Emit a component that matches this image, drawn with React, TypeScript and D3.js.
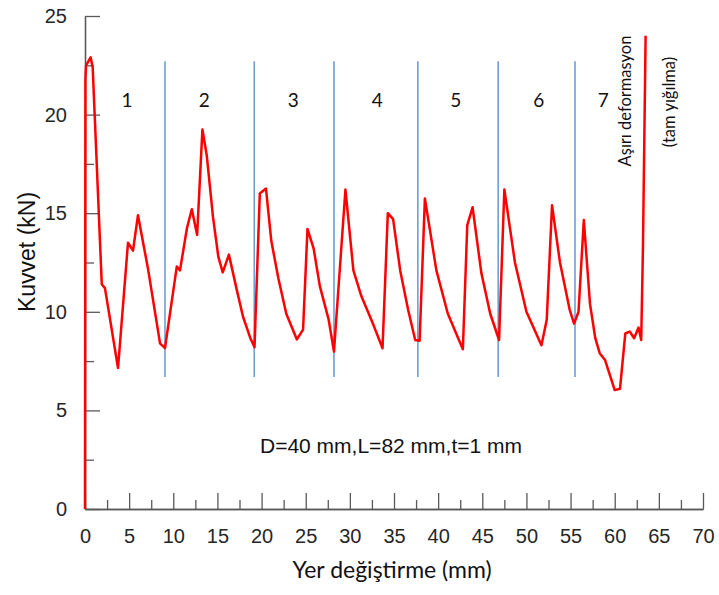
import React, { useRef, useEffect } from "react";
import * as d3 from "d3";

// crushing test: displacement (mm) vs force (kN)
const dispMm = [
  0, 0.05, 0.12, 0.64, 0.87, 1.9, 2.26, 3.74, 4.87, 5.44, 6.0, 7.13, 8.5, 9.06,
  10.4, 10.76, 11.55, 12.1, 12.7, 13.3, 13.8, 14.5, 15.1, 15.6, 16.3, 17.2, 17.9,
  18.7, 19.2, 19.8, 20.5, 21.1, 21.9, 22.8, 24.0, 24.7, 25.2, 25.9, 26.6, 27.6,
  28.2, 29.5, 30.4, 31.3, 32.7, 33.7, 34.3, 34.9, 35.7, 36.6, 37.4, 37.9, 38.5,
  39.8, 41.1, 42.8, 43.3, 43.9, 44.9, 45.9, 46.9, 47.5, 48.7, 50.0, 51.7, 52.3,
  52.9, 53.8, 54.9, 55.4, 55.9, 56.5, 57.2, 57.8, 58.3, 58.9, 60.0, 60.6, 61.2,
  61.7, 62.2, 62.7, 63.0, 63.2, 63.5,
];
const forceKn = [
  0, 21.8, 22.5, 22.9, 22.4, 11.4, 11.2, 7.15, 13.5, 13.1, 14.9, 12.2, 8.4, 8.16,
  12.3, 12.1, 14.25, 15.2, 13.9, 19.25, 17.9, 14.8, 12.8, 12.0, 12.9, 11.1, 9.75,
  8.7, 8.2, 16.0, 16.25, 13.6, 11.7, 9.9, 8.6, 9.1, 14.2, 13.2, 11.3, 9.6,
  7.98, 16.2, 12.1, 10.8, 9.3, 8.15, 15.0, 14.7, 12.1, 10.1, 8.57, 8.53, 15.75,
  12.1, 9.9, 8.1, 14.4, 15.3, 11.95, 9.9, 8.57, 16.2, 12.5, 10.0, 8.3, 9.6,
  15.4, 12.5, 10.1, 9.4, 10.0, 14.65, 10.4, 8.66, 7.9, 7.56, 6.03, 6.1, 8.9,
  9.0, 8.66, 9.2, 8.57, 13.3, 24.0,
];

// fold boundaries (blue lines) and fold numbers
const foldLines = [9.06, 19.17, 28.2, 37.7, 46.8, 55.5];
const foldLineTop = 22.7;
const foldLineBottom = 6.7;
const foldNames = ["1", "2", "3", "4", "5", "6", "7"];
const foldNameX = [4.76, 13.5, 23.6, 33.1, 42.0, 51.4, 58.7];
const foldNameY = 20.7;

const xMajor = [0, 5, 10, 15, 20, 25, 30, 35, 40, 45, 50, 55, 60, 65, 70];
const xMinor = [2.5, 7.5, 12.5, 17.5, 22.5, 27.5, 32.5, 37.5, 42.5, 47.5, 52.5, 57.5, 62.5, 67.5];
const yMajor = [0, 5, 10, 15, 20, 25];
const yMinor = [2.5, 7.5, 12.5, 17.5, 22.5];

const W = 719;
const H = 595;
const margin = { top: 16, right: 16, bottom: 86, left: 85 };
const axisColor = "#595959";
const arial = "'Liberation Sans', Arial, sans-serif";
const calibri = "Lato, 'Open Sans', sans-serif";

export default function App() {
  const svgRef = useRef<SVGSVGElement>(null);

  useEffect(() => {
    const svg = d3.select(svgRef.current);
    svg.selectAll("*").remove();

    const x = d3.scaleLinear().domain([0, 70]).range([margin.left, W - margin.right]);
    const y = d3.scaleLinear().domain([0, 25]).range([H - margin.bottom, margin.top]);

    const styleAxis = (g: any) => {
      g.select(".domain").attr("stroke", axisColor).attr("stroke-width", 1.3);
      g.selectAll(".tick line").attr("stroke", axisColor).attr("stroke-width", 1.3);
      g.attr("font-family", arial).attr("font-size", 20);
      g.selectAll(".tick text").attr("fill", "#262626");
    };

    // x axis, ticks pointing up
    svg.append("g")
      .attr("transform", `translate(0,${y(0)})`)
      .call(d3.axisBottom(x).tickValues(xMinor).tickSize(-9).tickSizeOuter(0).tickFormat(() => ""))
      .call(styleAxis);
    svg.append("g")
      .attr("transform", `translate(0,${y(0)})`)
      .call(d3.axisBottom(x).tickValues(xMajor).tickSize(-16).tickSizeOuter(0).tickPadding(20))
      .call(styleAxis);

    // y axis, ticks pointing right
    svg.append("g")
      .attr("transform", `translate(${x(0)},0)`)
      .call(d3.axisLeft(y).tickValues(yMinor).tickSize(-9).tickSizeOuter(0).tickFormat(() => ""))
      .call(styleAxis);
    svg.append("g")
      .attr("transform", `translate(${x(0)},0)`)
      .call(d3.axisLeft(y).tickValues(yMajor).tickSize(-15).tickSizeOuter(0).tickPadding(18))
      .call(styleAxis);

    // fold boundaries
    svg.append("g")
      .selectAll("line")
      .data(foldLines)
      .join("line")
      .attr("x1", d => x(d))
      .attr("x2", d => x(d))
      .attr("y1", y(foldLineTop))
      .attr("y2", y(foldLineBottom))
      .attr("stroke", "#6d9fd6")
      .attr("stroke-width", 1.6);

    svg.append("g")
      .selectAll("text")
      .data(foldNames)
      .join("text")
      .attr("x", (d, i) => x(foldNameX[i]))
      .attr("y", y(foldNameY))
      .attr("dy", "0.35em")
      .attr("text-anchor", "middle")
      .attr("font-family", calibri)
      .attr("font-size", 19)
      .attr("fill", "#111")
      .text(d => d);

    // force curve
    const line = d3.line<number>()
      .x(d => x(d))
      .y((d, i) => y(forceKn[i]));
    svg.append("path")
      .attr("d", line(dispMm))
      .attr("fill", "none")
      .attr("stroke", "#ff0000")
      .attr("stroke-width", 2.5)
      .attr("stroke-linejoin", "round");

    // side notes
    svg.append("text")
      .attr("transform", "translate(631,101) rotate(-90)")
      .attr("text-anchor", "middle")
      .attr("font-family", calibri)
      .attr("font-size", 16.5)
      .attr("fill", "#111")
      .text("Aşırı deformasyon");
    svg.append("text")
      .attr("transform", "translate(675,102) rotate(-90)")
      .attr("text-anchor", "middle")
      .attr("font-family", calibri)
      .attr("font-size", 16.5)
      .attr("fill", "#111")
      .text("(tam yığılma)");

    svg.append("text")
      .attr("x", 391)
      .attr("y", 446)
      .attr("dy", "0.35em")
      .attr("text-anchor", "middle")
      .attr("font-family", arial)
      .attr("font-size", 21)
      .attr("fill", "#111")
      .text("D=40 mm,L=82 mm,t=1 mm");

    // axis titles
    svg.append("text")
      .attr("x", 392)
      .attr("y", 578)
      .attr("text-anchor", "middle")
      .attr("font-family", calibri)
      .attr("font-size", 23)
      .attr("fill", "#111")
      .text("Yer değiştirme (mm)");
    svg.append("text")
      .attr("transform", "translate(35,252) rotate(-90)")
      .attr("text-anchor", "middle")
      .attr("font-family", arial)
      .attr("font-size", 23)
      .attr("fill", "#111")
      .text("Kuvvet (kN)");
  }, []);

  return (
    <div style={{ position: "absolute", left: 0, top: 0 }}>
      <svg ref={svgRef} width={W} height={H} style={{ display: "block", background: "#fff" }} />
    </div>
  );
}
